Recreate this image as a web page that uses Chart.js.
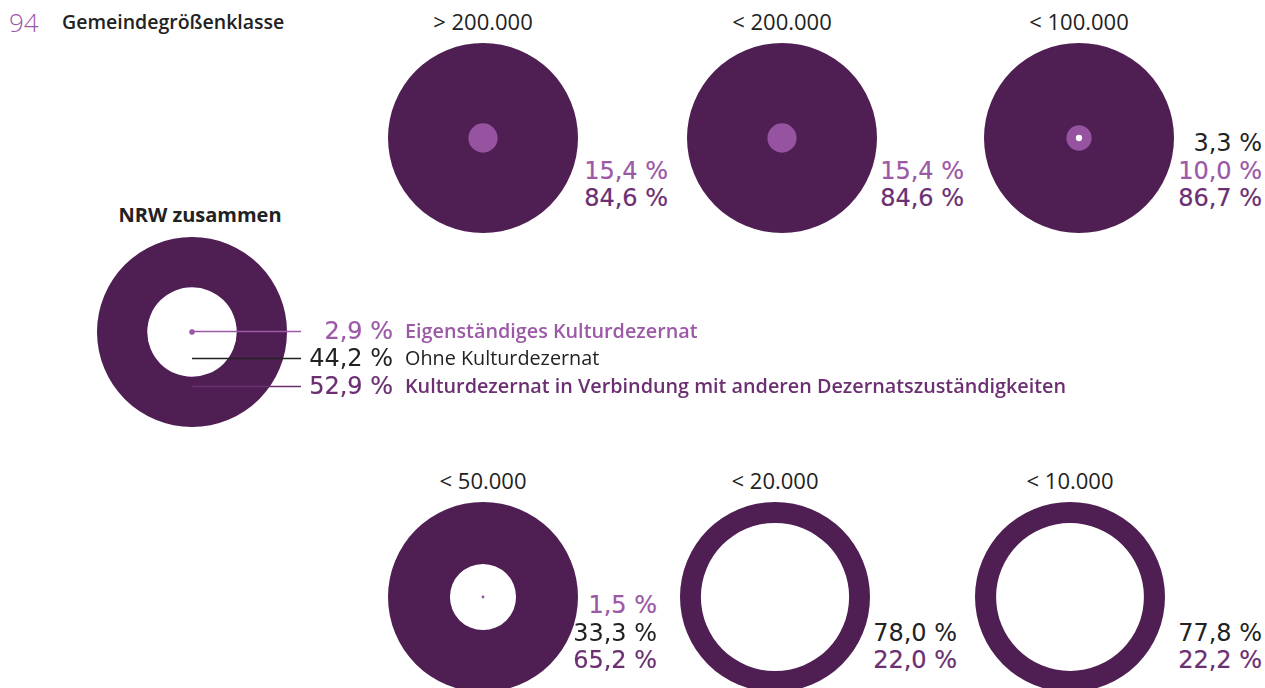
<!DOCTYPE html>
<html lang="de">
<head>
<meta charset="utf-8">
<script src="https://cdn.jsdelivr.net/npm/chart.js@4/dist/chart.umd.min.js"></script>
<style>
  body { margin: 0; background: #fff; font-family: 'Open Sans', sans-serif; color: #222; }
  #page { position: relative; width: 1265px; height: 688px; overflow: hidden; }
  .abs { position: absolute; white-space: nowrap; line-height: 1; }
  .mid { transform: translate(-50%, -50%); }
  .rgt { transform: translate(-100%, -50%); }
  .lft { transform: translate(0, -50%); }
  .num { font-family: 'DejaVu Sans', sans-serif; font-size: 24px; }
  .num.pos0 { color: #9b59a6; -webkit-text-stroke: 0.2px #9b59a6; }
  .num.pos1 { color: #222; font-weight: 400; }
  .num.pos2 { color: #6b2f72; -webkit-text-stroke: 0.2px #6b2f72; }
  .ttl { font-size: 22px; font-weight: 500; color: #222; }
  canvas { position: absolute; }
</style>
</head>
<body>
<div id="page"></div>
<script>
// ── Data ────────────────────────────────────────────────────────────────────
const classes   = ['> 200.000', '< 200.000', '< 100.000', '< 50.000', '< 20.000', '< 10.000'];
const eigen     = [15.4, 15.4, 10.0, 1.5, 0, 0];
const ohne      = [0, 0, 3.3, 33.3, 78.0, 77.8];
const verbund   = [84.6, 84.6, 86.7, 65.2, 22.0, 22.2];
// ring order from the centre outwards (series index: 0 eigen, 1 ohne, 2 verbund)
const ringOrder = [[0, 1, 2], [0, 1, 2], [1, 0, 2], [0, 1, 2], [0, 1, 2], [0, 1, 2]];

const nrwTitle  = 'NRW zusammen';
const nrwValues = [2.9, 44.2, 52.9];
const series    = ['Eigenständiges Kulturdezernat', 'Ohne Kulturdezernat',
                   'Kulturdezernat in Verbindung mit anderen Dezernatszuständigkeiten'];

// ── Styles / layout ─────────────────────────────────────────────────────────
const fills = ['#9553a0', '#ffffff', '#4f1f53'];
const lineC = ['#9b59a6', '#222222', '#6b2f72'];
const R = 95;
const spots = [
  { cx: 483,  cy: 138, lx: 668,  ly: 198 },
  { cx: 782,  cy: 138, lx: 964,  ly: 198 },
  { cx: 1079, cy: 138, lx: 1262, ly: 198 },
  { cx: 483,  cy: 597, lx: 657,  ly: 660 },
  { cx: 775,  cy: 597, lx: 957,  ly: 660 },
  { cx: 1070, cy: 597, lx: 1262, ly: 660 }
];
const LINE_H = 27.5;

const page = document.getElementById('page');
const fmtPct = v => v.toFixed(1).replace('.', ',') + ' %';

function addText(txt, x, y, cls, style) {
  const d = document.createElement('div');
  d.className = 'abs ' + cls;
  d.textContent = txt;
  d.style.left = x + 'px';
  d.style.top = y + 'px';
  if (style) Object.assign(d.style, style);
  page.appendChild(d);
  return d;
}

function ringChart(cx, cy, order, vals, label) {
  const c = document.createElement('canvas');
  c.width = 2 * R; c.height = 2 * R;
  c.style.left = (cx - R) + 'px';
  c.style.top = (cy - R) + 'px';
  page.appendChild(c);
  let cum = 0;
  const rings = [];
  order.forEach(s => {
    if (!vals[s]) return;
    cum += vals[s];
    rings.push({ data: [Math.min(cum, 100)], backgroundColor: fills[s], borderWidth: 0 });
  });
  return new Chart(c, {
    type: 'polarArea',
    data: { labels: [label], datasets: rings },
    options: {
      responsive: false, animation: false, events: [],
      layout: { padding: 0 },
      plugins: { legend: { display: false }, tooltip: { enabled: false } },
      scales: { r: { min: 0, max: 100, display: false } }
    }
  });
}

// header
addText('94', 9, 22, 'lft', { fontSize: '26px', fontWeight: 300, color: '#9b59a6' });
addText('Gemeindegrößenklasse', 62, 22, 'lft', { fontSize: '19.5px', fontWeight: 600, color: '#222' });

// size classes
classes.forEach((name, i) => {
  const sp = spots[i];
  const vals = [eigen[i], ohne[i], verbund[i]];
  ringChart(sp.cx, sp.cy, ringOrder[i], vals, name);
  addText(name, sp.cx, sp.cy - 117, 'ttl mid');
  const shown = ringOrder[i].filter(s => vals[s]);
  shown.forEach((s, k) => {
    const y = sp.ly - (shown.length - 1 - k) * LINE_H;
    addText(fmtPct(vals[s]), sp.lx, y, 'num rgt pos' + s);
  });
});

// NRW total
const nrw = { cx: 192, cy: 332 };
addText(nrwTitle, nrw.cx + 8, 215, 'mid', { fontSize: '20px', fontWeight: 700, color: '#222' });
ringChart(nrw.cx, nrw.cy, [0, 1, 2], nrwValues, nrwTitle);

const legendY = [331, 358, 386];
const ns = 'http://www.w3.org/2000/svg';
const svg = document.createElementNS(ns, 'svg');
svg.setAttribute('width', 1265); svg.setAttribute('height', 688);
svg.style.position = 'absolute'; svg.style.left = '0'; svg.style.top = '0';
page.appendChild(svg);
legendY.forEach((y, s) => {
  const ln = document.createElementNS(ns, 'line');
  ln.setAttribute('x1', nrw.cx); ln.setAttribute('x2', 301);
  ln.setAttribute('y1', y + 0.5); ln.setAttribute('y2', y + 0.5);
  ln.setAttribute('stroke', lineC[s]); ln.setAttribute('stroke-width', 1.5);
  svg.appendChild(ln);
  addText(fmtPct(nrwValues[s]), 393, y, 'num rgt pos' + s);
  addText(series[s], 405, y, 'lft', {
    fontSize: '19.8px',
    fontWeight: s === 1 ? 400 : 600,
    color: lineC[s]
  });
});
const dot = document.createElementNS(ns, 'circle');
dot.setAttribute('cx', nrw.cx); dot.setAttribute('cy', legendY[0] + 0.5);
dot.setAttribute('r', 2); dot.setAttribute('fill', lineC[0]);
svg.appendChild(dot);
</script>
</body>
</html>
